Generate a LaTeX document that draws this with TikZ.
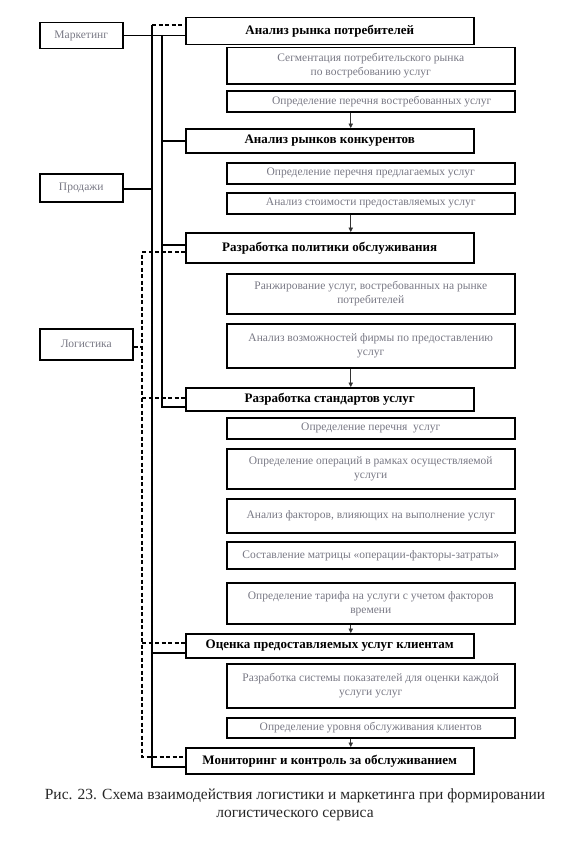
\documentclass[tikz,border=0pt]{standalone}
\usepackage{fontspec}
\setmainfont{Liberation Serif}
\usetikzlibrary{arrows.meta}
\definecolor{subgray}{RGB}{120,120,132}
\begin{document}
\begin{tikzpicture}[x=1pt,y=-1pt,
  mainbox/.style={draw=black, line width=1.5pt, minimum width=288pt, inner sep=0pt, anchor=north west,
    font=\bfseries\fontsize{13}{15}\selectfont},
  subbox/.style={draw=black, line width=1.5pt, minimum width=288pt, inner sep=0pt, anchor=north west,
    align=center, text=subgray, font=\fontsize{11.5}{14}\selectfont},
  leftbox/.style={draw=black, line width=1.5pt, inner sep=0pt, anchor=north west,
    text=subgray, font=\fontsize{11.5}{13}\selectfont},
  conn/.style={line width=1.2pt},
  dashconn/.style={line width=1.2pt, dash pattern=on 4pt off 2.5pt},
  arr/.style={line width=0.8pt, draw=black!80, -{Triangle[length=4.5pt,width=4.5pt]}},
  caption/.style={align=center, text=black!85, font=\fontsize{15.5}{18}\selectfont}
]
\useasboundingbox (0,0) rectangle (583,843);

% left boxes
\node[leftbox, minimum width=83pt, minimum height=26pt] (mark) at (39,22) {Маркетинг};
\node[leftbox, minimum width=83pt, minimum height=28pt] (sales) at (39,173) {Продажи};
\node[leftbox, minimum width=93pt, minimum height=31pt] (log) at (39,328) {Логистика};

% main boxes
\node[mainbox, minimum height=27pt] (m1) at (185,17) {Анализ рынка потребителей};
\node[mainbox, minimum height=24pt] (m2) at (185,128) {Анализ рынков конкурентов};
\node[mainbox, minimum height=30pt] (m3) at (185,232) {Разработка политики обслуживания};
\node[mainbox, minimum height=23pt] (m4) at (185,387) {Разработка стандартов услуг};
\node[mainbox, minimum height=24pt] (m5) at (185,633) {Оценка предоставляемых услуг клиентам};
\node[mainbox, minimum height=26pt] (m6) at (185,747) {Мониторинг и контроль за обслуживанием};

% sub boxes
\node[subbox, minimum height=36pt] (s1) at (226,47) {Сегментация потребительского рынка\\по востребованию услуг};
\node[subbox, minimum height=21pt] (s2) at (226,90) {\hspace*{22pt}Определение перечня востребованных услуг};
\node[subbox, minimum height=21pt] (s3) at (226,162) {Определение перечня предлагаемых услуг};
\node[subbox, minimum height=21pt] (s4) at (226,192) {Анализ стоимости предоставляемых услуг};
\node[subbox, minimum height=40pt] (s5) at (226,273) {Ранжирование услуг, востребованных на рынке\\потребителей};
\node[subbox, minimum height=44pt] (s6) at (226,323) {Анализ возможностей фирмы по предоставлению\\услуг};
\node[subbox, minimum height=21pt] (s7) at (226,417) {Определение перечня\ \ услуг};
\node[subbox, minimum height=40pt] (s8) at (226,448) {Определение операций в рамках осуществляемой\\услуги};
\node[subbox, minimum height=34pt] (s9) at (226,498) {Анализ факторов, влияющих на выполнение услуг};
\node[subbox, minimum height=27pt] (s10) at (226,541) {Составление матрицы «операции-факторы-затраты»};
\node[subbox, minimum height=41pt] (s11) at (226,582) {Определение тарифа на услуги с учетом факторов\\времени};
\node[subbox, minimum height=44pt] (s12) at (226,663) {Разработка системы показателей для оценки каждой\\услуги услуг};
\node[subbox, minimum height=20pt] (s13) at (226,717) {Определение уровня обслуживания клиентов};

% arrows between blocks
\draw[arr] ([xshift=-20pt]s2.south) -- ([xshift=-20pt]s2.south |- m2.north);
\draw[arr] ([xshift=-20pt]s4.south) -- ([xshift=-20pt]s4.south |- m3.north);
\draw[arr] ([xshift=-20pt]s6.south) -- ([xshift=-20pt]s6.south |- m4.north);
\draw[arr] ([xshift=-20pt]s11.south) -- ([xshift=-20pt]s11.south |- m5.north);
\draw[arr] ([xshift=-20pt]s13.south) -- ([xshift=-20pt]s13.south |- m6.north);

% marketing line
\coordinate (mkt) at (162,35);
\coordinate (mkb) at (162,407);
\coordinate (mk2) at (162,141);
\coordinate (mk3) at (162,245);
\draw[conn] (mark.east) -- (mark.east -| m1.west);
\draw[conn] (mkt) -- (mkb) -- (mkb -| m4.west);
\draw[conn] (mk2) -- (mk2 -| m2.west);
\draw[conn] (mk3) -- (mk3 -| m3.west);

% sales line
\coordinate (slt) at (152,25);
\coordinate (slb) at (152,767);
\coordinate (sl5) at (152,653);
\coordinate (slm) at (152,189);
\draw[dashconn] (slt) -- (slt -| m1.west);
\draw[conn] (slt) -- (slb) -- (slb -| m6.west);
\draw[conn] (sl5) -- (sl5 -| m5.west);
\draw[conn] (sales.east |- slm) -- (slm);

% logistics line
\coordinate (lgt) at (142,252);
\coordinate (lgb) at (142,757);
\coordinate (lg4) at (142,398);
\coordinate (lg5) at (142,643);
\coordinate (lgm) at (142,347);
\draw[dashconn] (lgt -| m3.west) -- (lgt) -- (lgb) -- (lgb -| m6.west);
\draw[dashconn] (lg4) -- (lg4 -| m4.west);
\draw[dashconn] (lg5) -- (lg5 -| m5.west);
\draw[dashconn] (log.east |- lgm) -- (lgm);

% caption
\node[caption] (cap) at (295,805) {Рис. 23. Схема взаимодействия логистики и маркетинга при формировании\\логистического сервиса};
\end{tikzpicture}
\end{document}
